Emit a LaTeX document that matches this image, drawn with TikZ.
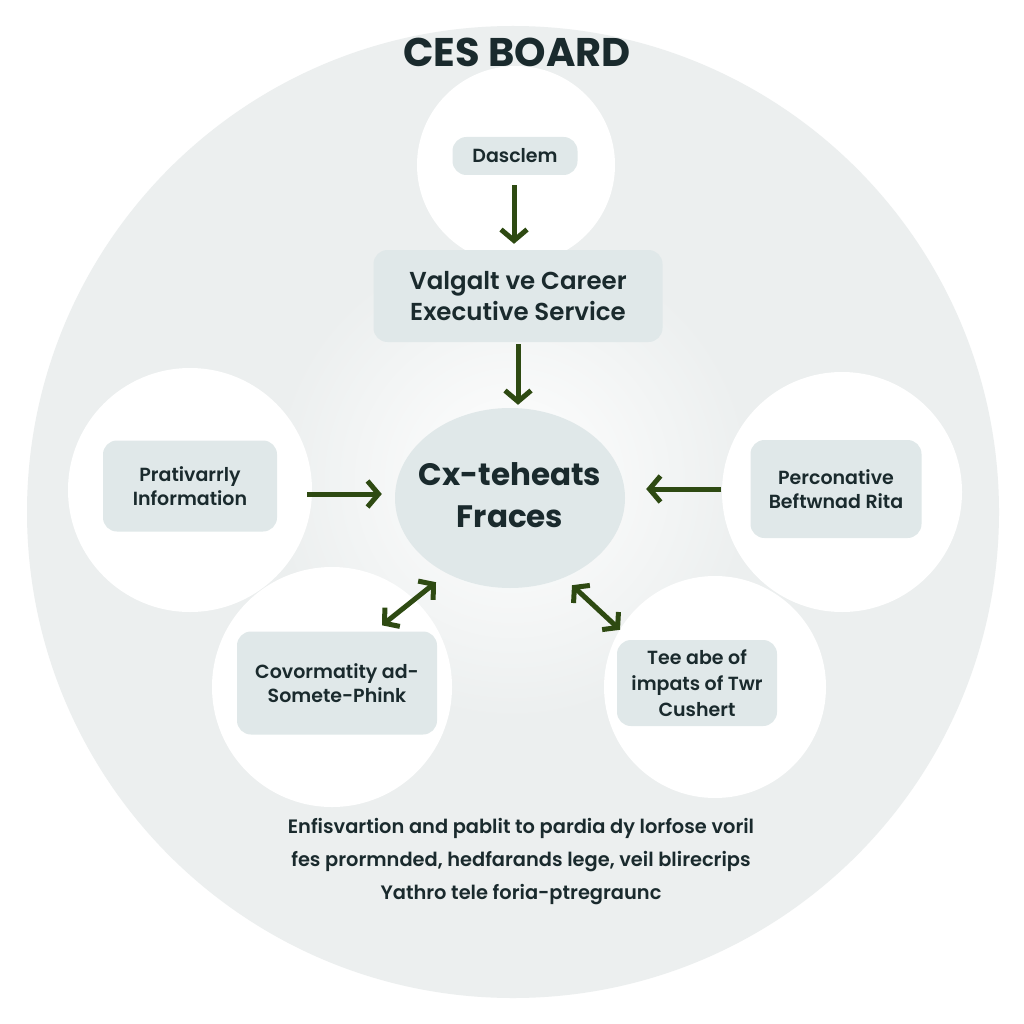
\documentclass[tikz,border=0pt]{standalone}
\usepackage{fontspec}
\setmainfont{Poppins}
\newfontfamily\medfont{Poppins SemiBold}
\usetikzlibrary{arrows.meta,shapes.geometric}
\definecolor{bgc}{HTML}{ECEFEF}
\definecolor{boxc}{HTML}{E0E8E9}
\definecolor{txt}{HTML}{1A2A2D}
\definecolor{arr}{HTML}{2E4A12}
\tikzset{
  box/.style={fill=boxc, rounded corners=14pt, text=txt, align=center, inner sep=0pt, font=\medfont\fontsize{19}{24}\selectfont},
  wcirc/.style={circle, fill=white, inner sep=0pt},
  arrowline/.style={draw=arr, line width=5pt, -{Straight Barb[length=11pt,width=26pt]}},
  dblarrow/.style={draw=arr, line width=5pt, {Straight Barb[length=10pt,width=24pt]}-{Straight Barb[length=10pt,width=24pt]}},
}
\begin{document}
\begin{tikzpicture}[x=1pt,y=-1pt]
\useasboundingbox (0,0) rectangle (1024,1024);
\fill[white] (0,0) rectangle (1024,1024);
\node[circle, fill=bgc, minimum size=972pt, inner sep=0pt] (bigc) at (513,512) {};
\shade[inner color=white, outer color=bgc] (512,480) circle[radius=240];
% white circles
\node[wcirc, minimum size=198pt] (ctop) at (516,165) {};
\node[wcirc, minimum size=244pt] (cleft) at (190,490) {};
\node[wcirc, minimum size=240pt] (cright) at (842,492) {};
\node[wcirc, minimum size=240pt] (cbl) at (332,687) {};
\node[wcirc, minimum size=222pt] (cbr) at (715,687) {};
% title
\node[text=txt, font=\bfseries\fontsize{40}{46}\selectfont] (title) at (517,52) {CES BOARD};
% boxes
\node[box, minimum width=125pt, minimum height=38pt] (dasc) at (515,156) {Dasclem};
\node[box, minimum width=289pt, minimum height=92pt, font=\medfont\fontsize{24.5}{31}\selectfont] (valg) at (518,296) {Valgalt ve Career\\Executive Service};
\node[ellipse, fill=boxc, minimum width=230pt, minimum height=180pt, inner sep=0pt, text=txt, font=\bfseries\fontsize{31}{40}\selectfont] (cen) at (510,498) {\raisebox{-6pt}{\makebox[0pt][c]{\begin{tabular}{@{}c@{}}Cx-teheats\\[2pt]Fraces\end{tabular}}}};
\node[box, minimum width=174pt, minimum height=91pt] (lbox) at (190,486) {Prativarrly\\Information};
\node[box, minimum width=171pt, minimum height=98pt] (rbox) at (836,489) {Perconative\\Beftwnad Rita};
\node[box, minimum width=200pt, minimum height=103pt] (blbox) at (337,683) {Covormatity ad-\\Somete-Phink};
\node[box, minimum width=160pt, minimum height=86pt, font=\medfont\fontsize{19}{26}\selectfont] (brbox) at (697,683) {Tee abe of\\impats of Twr\\Cushert};
% arrows
\draw[arrowline] ([shift={(-1,10)}]dasc.south) -- ([shift={(-4,-6)}]valg.north);
\draw[arrowline] ([shift={(0,2)}]valg.south) -- ([shift={(8,-3)}]cen.north);
\draw[arrowline] ([shift={(30,8)}]lbox.east) -- ([shift={(-13,-4)}]cen.west);
\draw[arrowline] ([shift={(-29,0)}]rbox.west) -- ([shift={(21,-9)}]cen.east);
\draw[dblarrow] ([shift={(45,-6)}]blbox.north) -- ([shift={(-74,-6)}]cen.south);
\draw[dblarrow] ([shift={(62,-3)}]cen.south) -- ([shift={(-77,-10)}]brbox.north);
% bottom text
\node[text=txt, align=center, font=\medfont\fontsize{19.4}{33}\selectfont] (desc) at (521,862) {Enfisvartion and pablit to pardia dy lorfose voril\\fes prormnded, hedfarands lege, veil blirecrips\\Yathro tele foria-ptregraunc};
\end{tikzpicture}
\end{document}
